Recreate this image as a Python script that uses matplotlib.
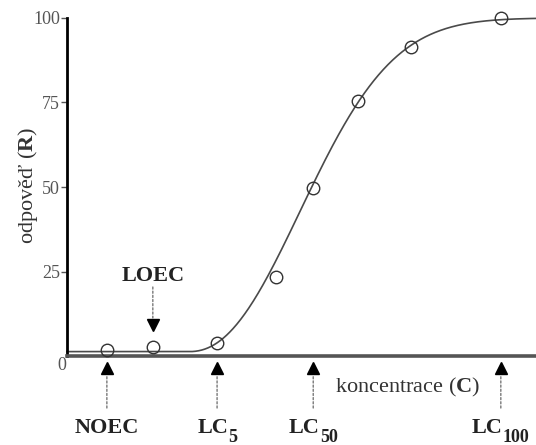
import numpy as np
import matplotlib
matplotlib.use("Agg")
import matplotlib.pyplot as plt
from matplotlib.transforms import blended_transform_factory, offset_copy

plt.rcParams['font.family'] = ['Liberation Serif', 'DejaVu Serif']
plt.rcParams['mathtext.fontset'] = 'custom'
plt.rcParams['mathtext.rm'] = 'Liberation Serif'
plt.rcParams['mathtext.bf'] = 'Liberation Serif:bold'
plt.rcParams['mathtext.it'] = 'Liberation Serif:italic'

# measured responses
conc = [0.85, 1.83, 3.2, 4.46, 5.25, 6.2, 7.33, 9.25]
resp = [1.8, 2.7, 3.9, 23.4, 49.7, 75.4, 91.4, 100.0]

# fitted dose-response curve parameters (Weibull-type)
base, top, x0, scale, shape = 1.3, 100.0, 2.6, 3.12, 2.2

# key concentrations: (main text, subscript, concentration)
marks_up = [("NOEC", "", 0.85), ("LC", "5", 3.2), ("LC", "50", 5.25), ("LC", "100", 9.25)]
loec = ("LOEC", 1.83)

yticks = [25, 50, 75, 100]

W, H = 536, 445
fig = plt.figure(figsize=(W / 100, H / 100), dpi=100)
ax = fig.add_axes([67 / W, (H - 356) / H, (536 - 67) / W, (356 - 18) / H])
ax.set_xlim(0, 10)
ax.set_ylim(0, 100)

xs = np.linspace(0, 10, 600)
t = np.clip(xs - x0, 0, None)
curve = base + (top - base) * (1 - np.exp(-(t / scale) ** shape))
ax.plot(xs, curve, color='#4a4a4a', lw=1.2, zorder=2, clip_on=False)
ax.plot(conc, resp, 'o', ms=9, mfc='none', mec='#333333', mew=1.0, zorder=3, clip_on=False)

for s in ['top', 'right']:
    ax.spines[s].set_visible(False)
ax.spines['left'].set_linewidth(2.0)
ax.spines['left'].set_color('black')
ax.spines['bottom'].set_linewidth(2.6)
ax.spines['bottom'].set_color('#555555')
ax.set_xticks([])
ax.set_yticks(yticks)
ax.set_yticklabels([str(v) for v in yticks])
ax.tick_params(axis='y', length=4, width=1, pad=1, labelsize=13, labelcolor='#555555', color='#555555')

bt = blended_transform_factory(ax.transData, ax.transAxes)

def tr(dy, dx=0):
    return offset_copy(bt, fig=fig, x=dx, y=dy, units='dots')

ax.text(-0.12, 0, "0", transform=offset_copy(ax.transData, fig=fig, x=0, y=-9, units='dots'),
        ha='center', va='center', fontsize=13, color='#555555')

renderer = fig.canvas.get_renderer()

for lab, sub, xv in marks_up:
    ax.plot([xv], [0], marker='^', ms=9, color='black', transform=tr(-12), clip_on=False, ls='none')
    ax.annotate('', xy=(xv, 0), xytext=(xv, 0), xycoords=tr(-19), textcoords=tr(-52),
                arrowprops=dict(arrowstyle='-', ls=(0, (1.5, 1.5)), color='#777777', lw=1,
                                shrinkA=0, shrinkB=0), annotation_clip=False)
    t1 = ax.text(xv, 0, lab, transform=tr(-77), ha='left', va='baseline', fontsize=16,
                 fontweight='bold', color='#222222')
    w1 = t1.get_window_extent(renderer).width
    w2 = 0
    t2 = None
    if sub:
        t2 = ax.text(xv, 0, sub, transform=tr(-86), ha='left', va='baseline', fontsize=13,
                     fontweight='bold', color='#222222')
        w2 = t2.get_window_extent(renderer).width
    total = w1 + w2
    t1.set_transform(tr(-77, -total / 2))
    if t2 is not None:
        t2.set_transform(tr(-86, -total / 2 + w1))

lab, xv = loec
ax.annotate('', xy=(xv, 0), xytext=(xv, 0), xycoords=tr(356 - 318), textcoords=tr(356 - 287),
            arrowprops=dict(arrowstyle='-', ls=(0, (1.5, 1.5)), color='#777777', lw=1,
                            shrinkA=0, shrinkB=0), annotation_clip=False)
ax.plot([xv], [0], marker='v', ms=9, color='black', transform=tr(356 - 325), clip_on=False, ls='none')
ax.text(xv, 0, lab, transform=tr(356 - 281), ha='center', va='baseline', fontsize=16,
        fontweight='bold', color='#222222')

fig.text(408 / W, 1 - 387 / H, r"koncentrace ($\mathbf{C}$)",
         ha='center', va='center', fontsize=16, color='#333333')

fig.text(28 / W, 1 - 185 / H, r"odpověď ($\mathbf{R}$)", rotation=90, ha='center', va='center',
         fontsize=16, color='#333333')

fig.savefig("out.png", dpi=100)
